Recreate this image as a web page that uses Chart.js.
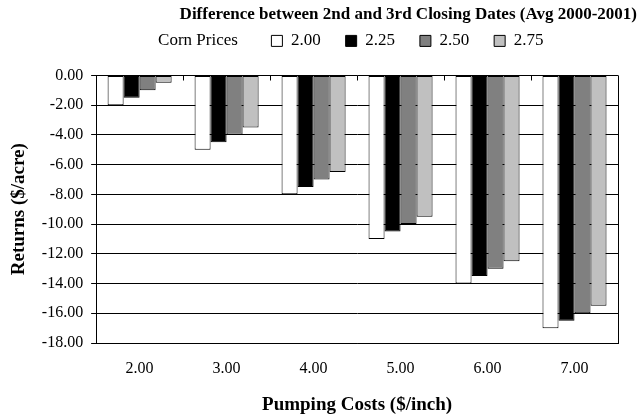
<!DOCTYPE html>
<html>
<head>
<meta charset="utf-8">
<script src="https://cdn.jsdelivr.net/npm/chart.js@4"></script>
<style>
  html, body { margin: 0; padding: 0; background: #fff; }
  #wrap { width: 640px; height: 416px; }
</style>
</head>
<body>
<div id="wrap"><canvas id="chart" width="640" height="416"></canvas></div>
<script>
// Datos del grafico
const pumpingCosts = ['2.00', '3.00', '4.00', '5.00', '6.00', '7.00'];
const cornPrices = ['2.00', '2.25', '2.50', '2.75'];
const price200 = [-2, -5, -8, -11, -14, -17];
const price225 = [-1.5, -4.5, -7.5, -10.5, -13.5, -16.5];
const price250 = [-1, -4, -7, -10, -13, -16];
const price275 = [-0.5, -3.5, -6.5, -9.5, -12.5, -15.5];
const yTicks = [0, -2, -4, -6, -8, -10, -12, -14, -16, -18];

const colores = ['#ffffff', '#000000', '#808080', '#c0c0c0'];
const series = [price200, price225, price250, price275];
const FONT = "'Liberation Serif', 'Times New Roman', serif";

// Marco del area y marcas de categoria arriba
const marcoPlugin = {
  id: 'marco',
  afterDraw(chart) {
    const { ctx, chartArea, scales } = chart;
    ctx.save();
    ctx.strokeStyle = '#000';
    ctx.lineWidth = 1;
    ctx.beginPath();
    ctx.moveTo(Math.round(chartArea.right) + 0.5, chartArea.top);
    ctx.lineTo(Math.round(chartArea.right) + 0.5, chartArea.bottom);
    const x = scales.x;
    const y0 = Math.round(scales.y.getPixelForValue(0)) + 0.5;
    for (let i = 1; i < pumpingCosts.length; i++) {
      const px = Math.round((x.getPixelForValue(i - 1) + x.getPixelForValue(i)) / 2) + 0.5;
      ctx.moveTo(px, y0);
      ctx.lineTo(px, y0 + 5);
    }
    ctx.stroke();
    ctx.restore();
  }
};

// Espacio extra debajo de la leyenda y desplazamiento a la derecha
const espacioLeyenda = {
  id: 'espacioLeyenda',
  beforeInit(chart) {
    const fitOriginal = chart.legend.fit;
    chart.legend.fit = function () {
      fitOriginal.bind(this)();
      this.height += 16;
    };
  },
  afterLayout(chart) {
    chart.legend.left += 27;
    chart.legend.right += 27;
  }
};

new Chart(document.getElementById('chart'), {
  type: 'bar',
  data: {
    labels: pumpingCosts,
    datasets: series.map((vals, i) => ({
      label: cornPrices[i] + '    ',
      data: vals,
      backgroundColor: colores[i],
      borderColor: '#000',
      borderWidth: 1,
      borderSkipped: false,
      categoryPercentage: 0.736,
      barPercentage: 1
    }))
  },
  options: {
    responsive: false,
    animation: false,
    layout: { padding: { left: 8, right: 3, top: 0, bottom: 0 } },
    plugins: {
      title: {
        display: true,
        text: 'Difference between 2nd and 3rd Closing Dates (Avg 2000-2001)',
        align: 'end',
        color: '#000',
        font: { family: FONT, size: 17, weight: 'bold' },
        padding: { top: 4, bottom: 0 }
      },
      legend: {
        display: true,
        position: 'top',
        labels: {
          color: '#000',
          font: { family: FONT, size: 17 },
          boxWidth: 11,
          boxHeight: 11,
          padding: 8,
          generateLabels(chart) {
            const items = Chart.defaults.plugins.legend.labels.generateLabels(chart);
            items.forEach(it => { it.strokeStyle = '#000'; it.lineWidth = 1; });
            items.unshift({ text: 'Corn Prices      ', fillStyle: 'rgba(0,0,0,0)', strokeStyle: 'rgba(0,0,0,0)', lineWidth: 0, datasetIndex: -1, hidden: false });
            return items;
          }
        },
        onClick() {}
      },
      tooltip: { enabled: false }
    },
    scales: {
      x: {
        grid: { display: false },
        border: { display: true, color: '#000', width: 1 },
        ticks: { color: '#000', font: { family: FONT, size: 16 }, padding: 8 },
        title: {
          display: true,
          text: 'Pumping Costs ($/inch)',
          color: '#000',
          font: { family: FONT, size: 19, weight: 'bold' },
          padding: { top: 7, bottom: 0 }
        }
      },
      y: {
        min: -18,
        max: 0,
        afterBuildTicks(scale) { scale.ticks = yTicks.map(v => ({ value: v })); },
        grid: { color: '#000', lineWidth: 1, tickLength: 5 },
        border: { display: true, color: '#000', width: 1 },
        ticks: {
          color: '#000',
          font: { family: FONT, size: 16 },
          padding: 8,
          callback: v => Number(v).toFixed(2)
        },
        title: {
          display: true,
          text: 'Returns ($/acre)',
          color: '#000',
          font: { family: FONT, size: 19, weight: 'bold' },
          padding: { top: 0, bottom: 3 }
        }
      },
      yRight: {
        position: 'right',
        display: true,
        grid: { display: false },
        border: { display: false },
        ticks: { display: false },
        afterFit(scale) { scale.width = 19; }
      }
    }
  },
  plugins: [marcoPlugin, espacioLeyenda]
});
</script>
</body>
</html>
